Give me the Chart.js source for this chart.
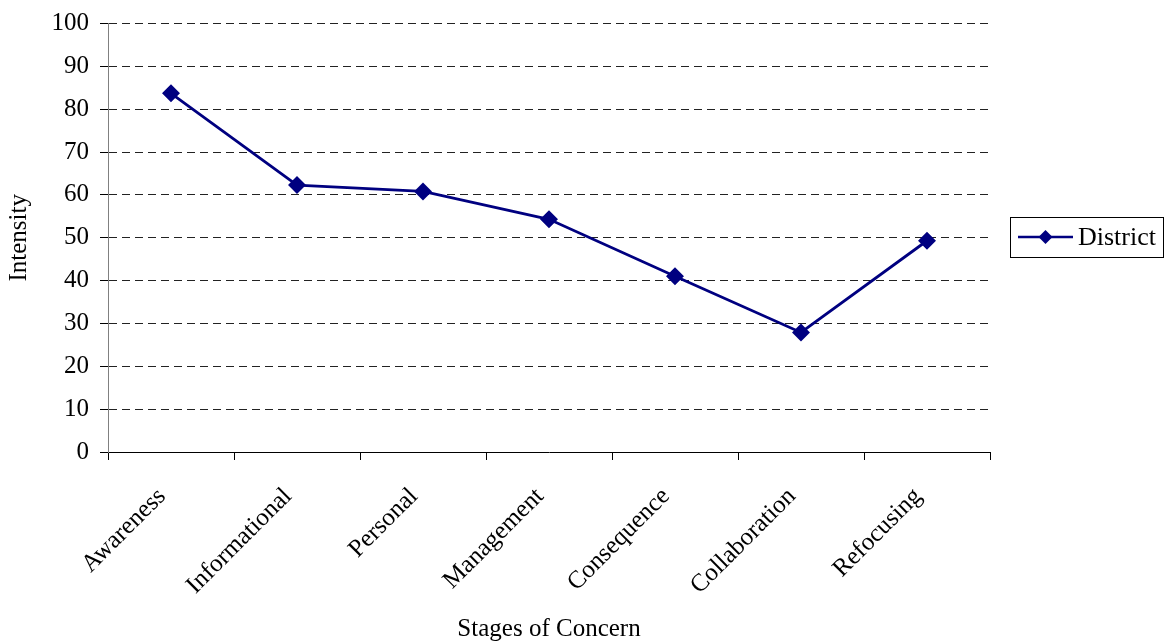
<!DOCTYPE html>
<html>
<head>
<meta charset="utf-8">
<script src="https://cdn.jsdelivr.net/npm/chart.js@4/dist/chart.umd.min.js"></script>
<style>
  html, body { margin: 0; padding: 0; background: #fff; }
  #wrap { width: 1164px; height: 643px; position: relative; }
</style>
</head>
<body>
<div id="wrap"><canvas id="chart" width="1164" height="643"></canvas></div>
<script>
var stages = ["Awareness", "Informational", "Personal", "Management", "Consequence", "Collaboration", "Refocusing"]
var district = [83.7, 62.3, 60.8, 54.3, 41.0, 27.9, 49.3]
var seriesName = "District"
var navy = "#000080"
var serif = "'Liberation Serif', 'Times New Roman', serif"

// boxed legend on the right, drawn by hand
var boxLegend = {
  id: "boxLegend",
  afterDraw: (chart) => {
    var ctx = chart.ctx
    var x = 1010, y = 217, w = 153, h = 40
    var cy = y + h / 2
    ctx.save()
    ctx.strokeStyle = "#000"
    ctx.lineWidth = 1
    ctx.strokeRect(x + 0.5, y + 0.5, w, h)

    ctx.strokeStyle = navy
    ctx.lineWidth = 2.5
    ctx.beginPath()
    ctx.moveTo(x + 8, cy)
    ctx.lineTo(x + 63, cy)
    ctx.stroke()

    ctx.fillStyle = navy
    ctx.beginPath()
    ctx.moveTo(x + 35.5, cy - 7)
    ctx.lineTo(x + 42.5, cy)
    ctx.lineTo(x + 35.5, cy + 7)
    ctx.lineTo(x + 28.5, cy)
    ctx.closePath()
    ctx.fill()

    ctx.fillStyle = "#000"
    ctx.font = "26px " + serif
    ctx.textBaseline = "middle"
    ctx.fillText(seriesName, x + 68, cy + 1)
    ctx.restore()
  }
}

new Chart(document.getElementById("chart"), {
  type: "line",
  data: {
    labels: stages,
    datasets: [{
      label: seriesName,
      data: district,
      borderColor: navy,
      backgroundColor: navy,
      borderWidth: 2.8,
      pointStyle: "rectRot",
      pointRadius: 7,
      pointHoverRadius: 7,
      tension: 0
    }]
  },
  options: {
    responsive: false,
    animation: false,
    devicePixelRatio: 1,
    layout: { padding: { top: 22, right: 174, bottom: 0, left: 0 } },
    plugins: {
      legend: { display: false },
      tooltip: { enabled: false }
    },
    scales: {
      x: {
        offset: true,
        grid: {
          offset: true,
          drawOnChartArea: false,
          drawTicks: true,
          tickLength: 8,
          tickColor: "#000",
          color: "#000"
        },
        border: { display: true, color: "#000", width: 1 },
        ticks: {
          color: "#000",
          font: { family: serif, size: 25 },
          maxRotation: 45,
          minRotation: 45,
          labelOffset: -9,
          padding: 22
        },
        title: {
          display: true,
          text: "Stages of Concern",
          color: "#000",
          font: { family: serif, size: 25, lineHeight: 1 },
          padding: { top: 0, bottom: 1 }
        },
        afterFit: (s) => { s.height = 191 }
      },
      y: {
        min: 0,
        max: 100,
        ticks: {
          stepSize: 10,
          color: "#000",
          font: { family: serif, size: 25, lineHeight: 1 },
          padding: 11
        },
        grid: {
          color: "#222",
          lineWidth: 1,
          tickLength: 8,
          tickColor: "#000"
        },
        border: { display: true, color: "#808080", width: 1, dash: [8, 5] },
        title: {
          display: true,
          text: "Intensity",
          color: "#000",
          font: { family: serif, size: 25, lineHeight: 1 },
          padding: { top: 7, bottom: 0 }
        },
        afterFit: (s) => { s.width = 108 }
      }
    }
  },
  plugins: [boxLegend]
})
</script>
</body>
</html>
